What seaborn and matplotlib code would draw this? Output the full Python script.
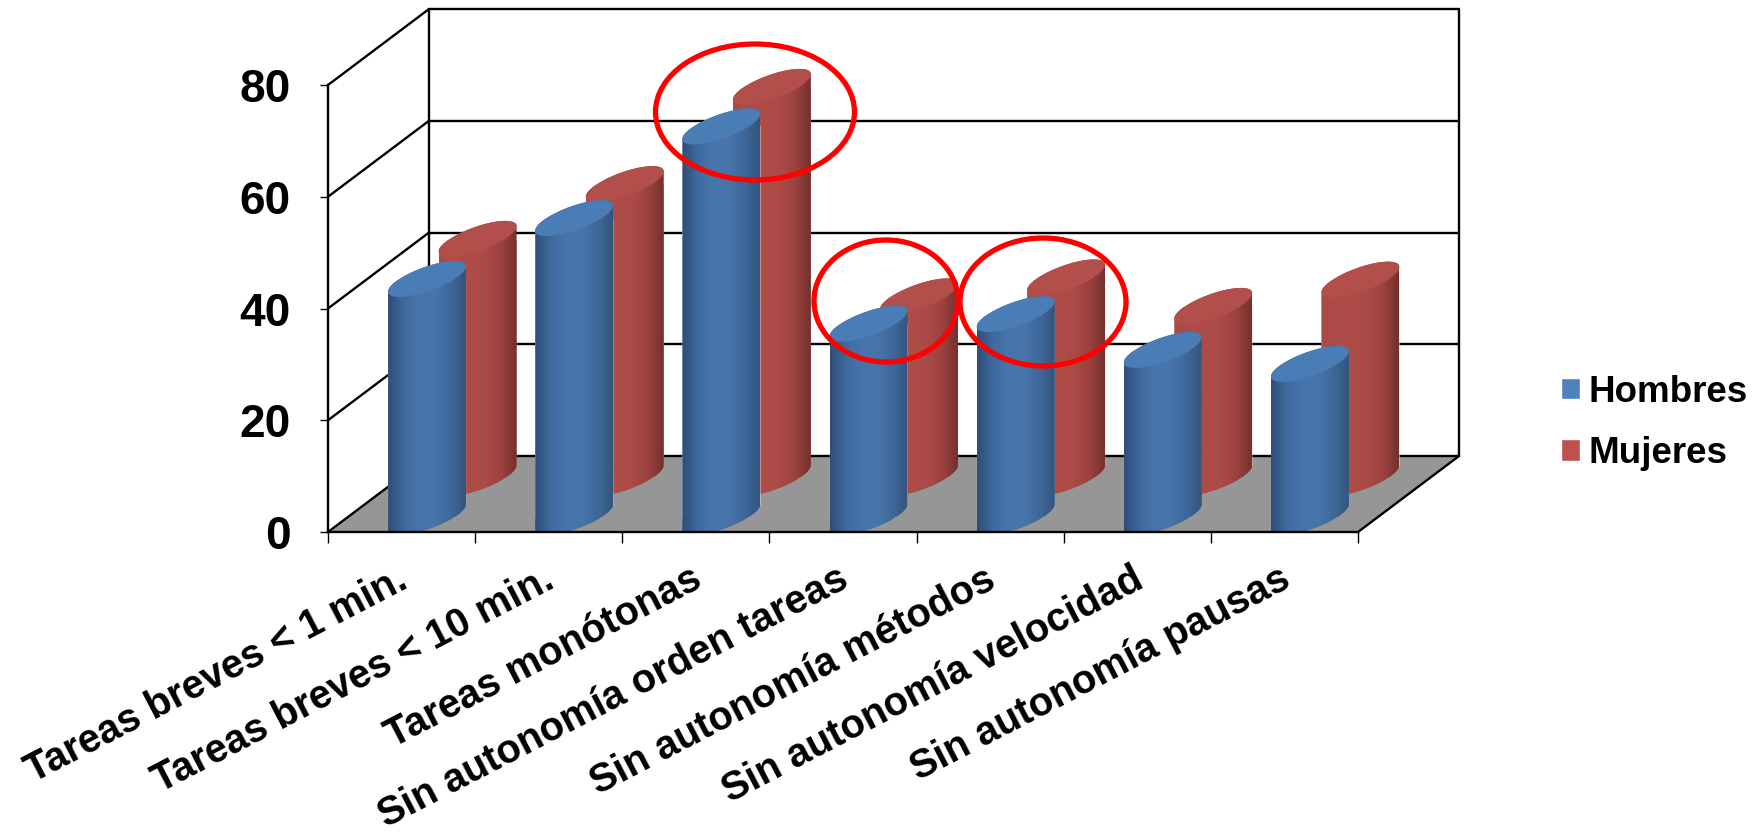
import numpy as np
import pandas as pd
import matplotlib
matplotlib.use('Agg')
import matplotlib.pyplot as plt
import seaborn as sns
from matplotlib.colors import LinearSegmentedColormap
from matplotlib.patches import Ellipse, Polygon
from matplotlib.transforms import IdentityTransform

categorias = ['Tareas breves < 1 min.', 'Tareas breves < 10 min.', 'Tareas monótonas',
              'Sin autonomía orden tareas', 'Sin autonomía métodos',
              'Sin autonomía velocidad', 'Sin autonomía pausas']
hombres = [42.6, 53.5, 69.9, 34.6, 36.3, 29.9, 27.4]
mujeres = [42.8, 52.6, 70.0, 32.5, 35.9, 30.8, 35.5]
y_ticks = [0, 20, 40, 60, 80]

W, H = 1761, 833
AX_L, AX_R, AX_T, AX_B = 328, 1358, 85, 532

df = pd.DataFrame({
    'categoria': categorias * 2,
    'valor': hombres + mujeres,
    'serie': ['Hombres'] * 7 + ['Mujeres'] * 7,
})

sns.set_theme(style='white')
plt.rcParams['font.family'] = ['Liberation Sans', 'DejaVu Sans']
plt.rcParams['font.weight'] = 'bold'

fig = plt.figure(figsize=(W / 100, H / 100), dpi=100)
ax = fig.add_axes([AX_L / W, 1 - AX_B / H, (AX_R - AX_L) / W, (AX_B - AX_T) / H])

sns.barplot(data=df, x='categoria', y='valor', hue='serie', dodge=False, width=0.53, saturation=1,
            palette={'Hombres': '#4f81bd', 'Mujeres': '#c0504d'}, ax=ax)
ax.set_xlim(-0.5, 6.5)
ax.set_ylim(0, 80)
ax.set_xlabel('')
ax.set_ylabel('')

# 3d box: depth vector in data units
depth_x, depth_y = 101 / 147.14, 76 / 5.59
line_kw = dict(color='black', lw=1.7, clip_on=False, zorder=1.5)
ax.add_patch(Polygon([(-0.5, 0), (6.5, 0), (6.5 + depth_x, depth_y), (-0.5 + depth_x, depth_y)],
                     closed=True, facecolor='#969696', edgecolor='none', clip_on=False, zorder=1))
for v in y_ticks:
    ax.plot([-0.5, -0.5 + depth_x], [v, v + depth_y], **line_kw)
    ax.plot([-0.5 + depth_x, 6.5 + depth_x], [v + depth_y, v + depth_y], **line_kw)
ax.plot([-0.5 + depth_x, -0.5 + depth_x], [depth_y, 80 + depth_y], **line_kw)
ax.plot([6.5 + depth_x, 6.5 + depth_x], [depth_y, 80 + depth_y], **line_kw)
ax.plot([6.5, 6.5 + depth_x], [0, depth_y], **line_kw)

# cylinders
estilos = [
    dict(off=(25.5 / 147.14, 15 / 5.59), z=4, tapa='#4a7cb6',
         cmap=['#2f4d76', '#3f6a9e', '#4775ab', '#4775ab', '#3f689a', '#33557e']),
    dict(off=(76 / 147.14, 54 / 5.59), z=3, tapa='#b34f4b',
         cmap=['#a84a46', '#ae4c48', '#ae4c48', '#ab4a46', '#9c423f', '#74302d']),
]
amp, fase = 18 / 5.59, np.radians(45)
for cont, est in zip(ax.containers, estilos):
    cmap = LinearSegmentedColormap.from_list('cil', est['cmap'])
    for bar in cont:
        x = bar.get_x() + est['off'][0]
        w = bar.get_width()
        y0 = est['off'][1]
        y1 = y0 + bar.get_height()
        bar.set_x(x)
        bar.set_y(y0)
        bar.set_zorder(est['z'])
        cx = x + w / 2
        t_up = np.linspace(0, np.pi, 80)
        t_dn = np.linspace(np.pi, 2 * np.pi, 80)
        top = np.c_[cx + w / 2 * np.cos(t_up), y1 + amp * np.cos(t_up - fase)]
        # the base stops on the front edge of the floor
        base = np.c_[cx + w / 2 * np.cos(t_dn), np.maximum(y0 + amp * np.cos(t_dn - fase), 0)]
        body = Polygon(np.r_[base, top], closed=True, facecolor='none', edgecolor='none',
                       clip_on=False, zorder=est['z'])
        ax.add_patch(body)
        bar.set_clip_path(body)
        bar.set_clip_box(fig.bbox)
        im = ax.imshow(np.linspace(0, 1, 256)[None, :], extent=(x, x + w, y0 - amp * 1.2, y1 + amp * 1.2),
                       cmap=cmap, aspect='auto', zorder=est['z'] + 0.1, interpolation='bilinear')
        im.set_clip_path(body)
        im.set_clip_box(fig.bbox)
        t_all = np.linspace(0, 2 * np.pi, 160)
        ax.add_patch(Polygon(np.c_[cx + w / 2 * np.cos(t_all), y1 + amp * np.cos(t_all - fase)],
                             closed=True, facecolor=est['tapa'], edgecolor='none',
                             clip_on=False, zorder=est['z'] + 0.2))
ax.set_xlim(-0.5, 6.5)
ax.set_ylim(0, 80)

# axes and ticks
sns.despine(ax=ax, top=True, right=True)
for s in ['left', 'bottom']:
    ax.spines[s].set_color('black')
    ax.spines[s].set_linewidth(1.7)
    ax.spines[s].set_zorder(6)
ax.set_yticks(y_ticks)
ax.set_xticks(np.arange(-0.5, 7), labels=[''] * 8)
ax.set_xticks(np.arange(7) - 0.04, labels=categorias, minor=True, rotation=27.5, ha='right',
              va='top', rotation_mode='anchor', fontsize=28.6, fontweight='bold', color='black')
ax.tick_params(axis='y', left=True, length=6, width=1, color='black', pad=21, labelsize=33, labelcolor='black')
ax.tick_params(axis='x', which='major', bottom=True, length=8, width=1, color='black')
ax.tick_params(axis='x', which='minor', bottom=False, length=0, pad=20)
for lab in ax.get_yticklabels():
    lab.set_fontweight('bold')

h, l = ax.get_legend_handles_labels()
ax.legend(h, l, loc='center left', bbox_to_anchor=(1561 / W, 1 - 423 / H), bbox_transform=fig.transFigure,
          frameon=False, fontsize=26.5, handlelength=0.52, handleheight=0.52, handletextpad=0.22,
          labelspacing=0.72, borderpad=0, borderaxespad=0, labelcolor='black')

# red circles
ovalos = [(755, 112, 199, 136), (886, 301, 144, 122), (1043, 302, 166, 128)]
for ox, oy, ow, oh in ovalos:
    fig.add_artist(Ellipse((ox, H - oy), ow, oh, transform=IdentityTransform(),
                           facecolor='none', edgecolor='#fe0000', lw=3.8, zorder=10))

fig.savefig('out.png', dpi=100)
